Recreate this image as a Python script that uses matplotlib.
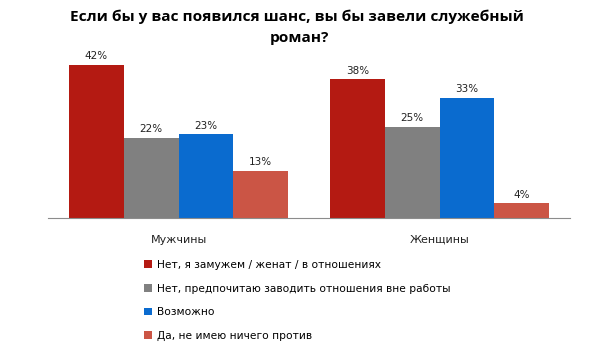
import numpy as np
import matplotlib
matplotlib.use("Agg")
import matplotlib.pyplot as plt

groups = ["Мужчины", "Женщины"]
answers = [
    "Нет, я замужем / женат / в отношениях",
    "Нет, предпочитаю заводить отношения вне работы",
    "Возможно",
    "Да, не имею ничего против",
]
men = [42, 22, 23, 13]
women = [38, 25, 33, 4]
colors = ["#B41A12", "#808080", "#0A6BCF", "#CB5545"]

fig = plt.figure(figsize=(5.98, 3.46), dpi=100)
ax = fig.add_axes([48 / 598, 1 - 218 / 346, 522 / 598, 164 / 346])

x = np.arange(len(groups))
w = 0.21
for i, (lab, c) in enumerate(zip(answers, colors)):
    vals = [men[i], women[i]]
    pos = x + (i - 1.5) * w
    ax.bar(pos, vals, width=w, color=c, label=lab)
    for px, v in zip(pos, vals):
        ax.annotate(f"{v}%", (px, v), xytext=(0, 2.5), textcoords="offset points",
                    ha="center", va="bottom", fontsize=7.5, color="#222222")

ax.set_xlim(-0.5, 1.5)
ax.set_ylim(0, 164 / 3.65)
for s in ["top", "right", "left"]:
    ax.spines[s].set_visible(False)
ax.spines["bottom"].set_color("#8c8c8c")
ax.set_yticks([])
ax.set_xticks(x)
ax.set_xticklabels(groups, fontsize=8, color="#222222")
ax.tick_params(axis="x", length=0, pad=12)

fig.text(0.497, 1 - 17 / 346, "Если бы у вас появился шанс, вы бы завели служебный",
         ha="center", va="center", fontsize=11.1, fontweight="bold", family="Open Sans")
fig.text(0.5, 1 - 38 / 346, "роман?",
         ha="center", va="center", fontsize=11.1, fontweight="bold", family="Open Sans")

fig.legend(loc="upper left", bbox_to_anchor=(144 / 598, 1 - 260 / 346), frameon=False,
           fontsize=7.7, handlelength=0.75, handleheight=0.75, handletextpad=0.45,
           labelspacing=1.27, borderaxespad=0, borderpad=0)

fig.savefig("out.png", dpi=100)
